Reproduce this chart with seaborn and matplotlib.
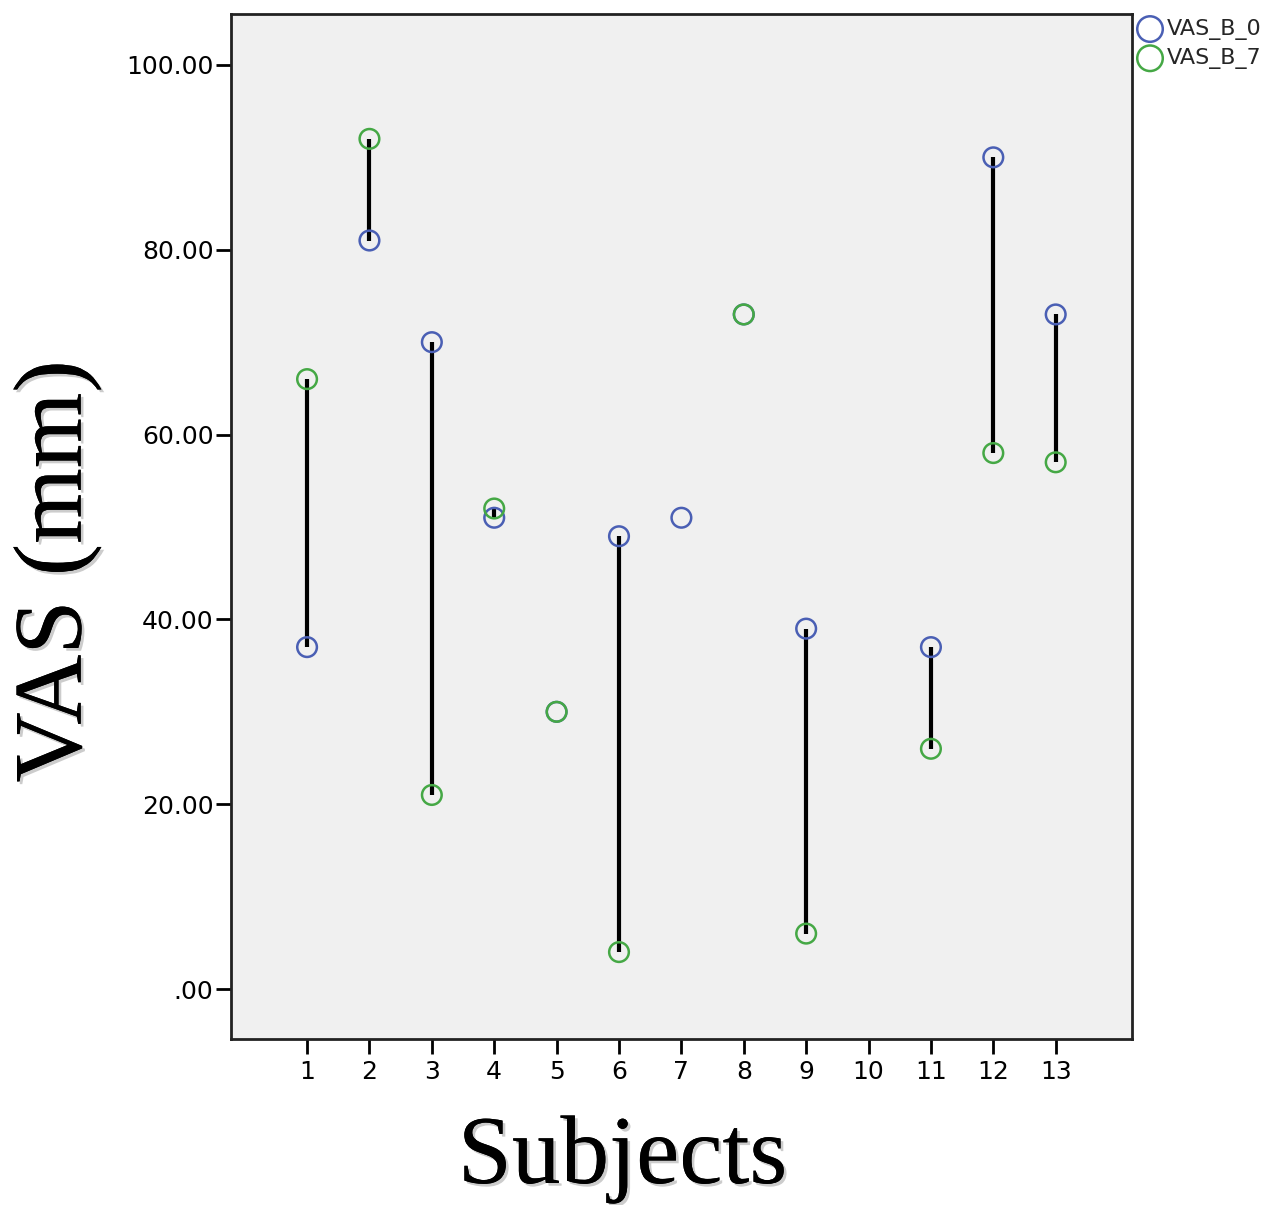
import numpy as np
import pandas as pd
import matplotlib
matplotlib.use("Agg")
import matplotlib.pyplot as plt
import matplotlib.patheffects as pe
import seaborn as sns

# Données (NaN = valeur absente)
subjects = [1, 2, 3, 4, 5, 6, 7, 8, 9, 10, 11, 12, 13]
vas_b_0 = [37, 81, 70, 51, 30, 49, 51, 73, 39, np.nan, 37, 90, 73]
vas_b_7 = [66, 92, 21, 52, 30, 4, np.nan, 73, 6, np.nan, 26, 58, 57]
y_ticks = [0, 20, 40, 60, 80, 100]
y_tick_labels = [".00", "20.00", "40.00", "60.00", "80.00", "100.00"]

df = pd.DataFrame({"Subject": subjects, "VAS_B_0": vas_b_0, "VAS_B_7": vas_b_7})
long_df = df.melt(id_vars="Subject", var_name="serie", value_name="VAS").dropna()

sns.set_style("ticks")
plt.rcParams["font.family"] = ["DejaVu Sans"]

fig = plt.figure(figsize=(12.76, 12.05), dpi=100)
ax = fig.add_axes([0.181, 0.1378, 0.706, 0.8505])
ax.set_facecolor("#f0f0f0")

# lignes verticales entre les deux mesures
both = df.dropna()
ax.vlines(both["Subject"], both["VAS_B_0"], both["VAS_B_7"], colors="black", linewidth=3, zorder=2)

palette = {"VAS_B_0": "#4a5fb4", "VAS_B_7": "#45a845"}
for serie, col in palette.items():
    sub = long_df[long_df["serie"] == serie]
    sns.scatterplot(data=sub, x="Subject", y="VAS", s=200, facecolor="none", edgecolor=col,
                    linewidth=1.8, ax=ax, zorder=3, label=serie)

ax.set_xlim(-0.22, 14.22)
ax.set_ylim(-5.4, 105.5)
ax.set_xticks(subjects)
ax.set_xticklabels([str(s) for s in subjects])
ax.set_yticks(y_ticks)
ax.set_yticklabels(y_tick_labels)
ax.tick_params(axis="both", labelsize=18, length=11, width=2, direction="out", colors="black")
ax.tick_params(axis="y", pad=1.5)
ax.tick_params(axis="x", pad=4)
for s in ax.spines.values():
    s.set_linewidth(2)
    s.set_color("#222222")
    s.set_visible(True)
ax.set_xlabel("")
ax.set_ylabel("")

shadow = [pe.withSimplePatchShadow(offset=(2, -2), shadow_rgbFace="#aaaaaa", alpha=0.6), pe.Normal()]
serif = ["Liberation Serif", "DejaVu Serif"]
fig.text(0.488, 0.0183, "Subjects", fontsize=70, family=serif, color="black",
         ha="center", va="baseline", path_effects=shadow)
fig.text(0.045, 0.526, "VAS (mm)", fontsize=70, family=serif, color="black",
         rotation=90, ha="center", va="center", path_effects=shadow)

leg = ax.legend(loc="upper left", bbox_to_anchor=(0.998, 1.004), frameon=False, fontsize=16,
                handletextpad=0.25, borderaxespad=0.0, labelspacing=0.37, handlelength=1.0,
                markerscale=1.3)

fig.savefig("out.png", dpi=100, facecolor="white")
